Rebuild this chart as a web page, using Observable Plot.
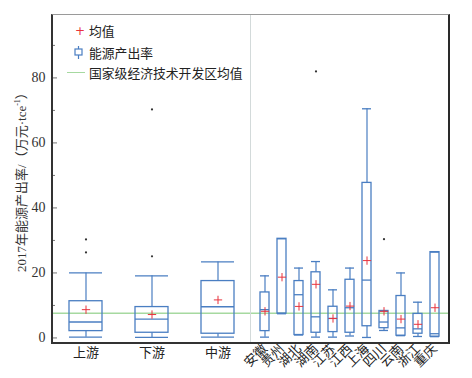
<!DOCTYPE html>
<html>
<head>
<meta charset="utf-8">
<script src="https://cdn.jsdelivr.net/npm/d3@7"></script>
<script src="https://cdn.jsdelivr.net/npm/@observablehq/plot@0.6"></script>
<style>
  html, body { margin: 0; padding: 0; background: #fff; }
  #wrap { position: relative; width: 472px; height: 378px; overflow: hidden; font-family: 'Liberation Serif', 'Noto Sans CJK SC', serif; }
  #wrap svg { position: absolute; top: 0; }
  .ov { position: absolute; box-sizing: border-box; }
  .leg { position: absolute; font-family: 'Noto Sans CJK SC', sans-serif; font-size: 12.8px; color: #222; line-height: 1; white-space: nowrap; }
</style>
</head>
<body>
<div id="wrap"></div>
<script>
// ---- data ----
const groupCats = ["上游", "下游", "中游"];
const groupMin = [0.25, 0.15, 0.25];
const groupQ1 = [2.1, 1.6, 1.3];
const groupMedian = [4.9, 5.8, 9.6];
const groupQ3 = [11.3, 9.5, 17.5];
const groupMax = [20.0, 19.1, 23.4];
const groupMean = [8.7, 7.2, 11.7];
const groupOutlierCats = ["上游", "上游", "下游", "下游"];
const groupOutlierValues = [30.3, 26.3, 25.1, 70.3];

const provCats = ["安徽", "贵州", "湖北", "湖南", "江苏", "江西", "上海", "四川", "云南", "浙江", "重庆"];
const provMin = [0.25, 7.5, 0.9, 0.25, 0.25, 0.6, 0.15, 2.3, 0.7, 0.45, 0.4];
const provQ1 = [2.1, 7.5, 0.9, 1.6, 1.8, 1.6, 3.6, 3.0, 0.7, 1.3, 0.4];
const provMedian = [8.7, 7.5, 13.3, 6.5, 6.0, 9.3, 17.8, 4.9, 3.1, 2.8, 1.3];
const provQ3 = [14.0, 30.5, 17.5, 20.2, 9.6, 17.9, 47.7, 8.3, 12.9, 7.4, 26.4];
const provMax = [19.1, 30.5, 21.5, 23.5, 14.8, 21.5, 70.5, 8.3, 20.0, 11.0, 26.4];
const provMean = [8.2, 18.7, 9.7, 16.5, 6.0, 9.8, 23.8, 8.2, 5.8, 4.2, 9.3];
const provOutlierCats = ["湖南", "四川"];
const provOutlierValues = [82.0, 30.4];

const nationalMean = [7.6];
const majorTicks = [0, 20, 40, 60, 80];
const minorTicks = [10, 30, 50, 70, 90];
const yLabel = "2017年能源产出率/（万元·tce";

// ---- styles ----
const boxColor = "#4a7ec2";
const meanColor = "#e8333d";
const lineColor = "#a6d9a0";
const yDomain = [-1.4, 99.2];
const serif = "'Liberation Serif', 'Noto Sans CJK SC', serif";
const cjk = "'Noto Sans CJK SC', sans-serif";

function table(cats, mn, q1, md, q3, mx, me) {
  return cats.map((c, i) => ({cat: c, min: mn[i], q1: q1[i], median: md[i], q3: q3[i], max: mx[i], mean: me[i]}));
}
const groupData = table(groupCats, groupMin, groupQ1, groupMedian, groupQ3, groupMax, groupMean);
const provData = table(provCats, provMin, provQ1, provMedian, provQ3, provMax, provMean);
const groupOut = groupOutlierCats.map((c, i) => ({cat: c, v: groupOutlierValues[i]}));
const provOut = provOutlierCats.map((c, i) => ({cat: c, v: provOutlierValues[i]}));

function boxMarks(data, outs) {
  return [
    Plot.ruleY(nationalMean, {stroke: lineColor, strokeWidth: 1.5}),
    Plot.ruleX(data, {x: "cat", y1: "min", y2: "q1", stroke: boxColor, strokeWidth: 1.2}),
    Plot.ruleX(data, {x: "cat", y1: "q3", y2: "max", stroke: boxColor, strokeWidth: 1.2}),
    Plot.tickY(data, {x: "cat", y: "min", stroke: boxColor, strokeWidth: 1.3}),
    Plot.tickY(data, {x: "cat", y: "max", stroke: boxColor, strokeWidth: 1.3}),
    Plot.barY(data, {x: "cat", y1: "q1", y2: "q3", fill: "none", stroke: boxColor, strokeWidth: 1.3}),
    Plot.tickY(data, {x: "cat", y: "median", stroke: boxColor, strokeWidth: 1.3}),
    Plot.dot(data, {x: "cat", y: "mean", symbol: "plus", r: 2.8, stroke: meanColor, strokeWidth: 1}),
    Plot.dot(outs, {x: "cat", y: "v", r: 1.1, fill: "#333", stroke: "none"})
  ];
}

const left = Plot.plot({
  width: 251, height: 378,
  marginLeft: 52, marginRight: 0, marginTop: 15, marginBottom: 36,
  style: {fontFamily: serif, background: "transparent"},
  x: {domain: groupCats, paddingInner: 0.5, paddingOuter: 0.25, label: null, axis: null},
  y: {domain: yDomain, label: null, axis: null},
  marks: [
    ...boxMarks(groupData, groupOut),
    Plot.axisY({ticks: majorTicks, tickSize: -5, text: null, stroke: "#777", label: null}),
    Plot.axisY({ticks: minorTicks, tickSize: -3, text: null, stroke: "#777", label: null}),
    Plot.axisY({ticks: majorTicks, tickSize: 0, tickPadding: 7, fontSize: 14, fontFamily: "'Liberation Serif', serif", fill: "#333", label: null}),
    Plot.axisX({tickSize: 0, tickPadding: 5, fontSize: 13, fill: "#222", label: null, fontFamily: cjk})
  ]
});

const right = Plot.plot({
  width: 221, height: 378,
  marginLeft: 0, marginRight: 24, marginTop: 15, marginBottom: 36,
  style: {fontFamily: serif, background: "transparent", overflow: "visible"},
  x: {domain: provCats, paddingInner: 0.5, paddingOuter: 0.25, label: null, axis: null},
  y: {domain: yDomain, label: null, axis: null},
  marks: [
    ...boxMarks(provData, provOut),
    Plot.axisX({tickSize: 0, tickPadding: 4, tickRotate: -45, fontSize: 13, fill: "#222", label: null, fontFamily: cjk})
  ]
});

const wrap = document.getElementById("wrap");
left.style.left = "0px";
right.style.left = "251px";
wrap.appendChild(left);
wrap.appendChild(right);

function addDiv(cls, css, html) {
  const d = document.createElement("div");
  d.className = cls;
  d.style.cssText = css;
  if (html) d.innerHTML = html;
  wrap.appendChild(d);
  return d;
}
// frame and divider
addDiv("ov", "left:250px;top:15px;width:1px;height:327px;background:#d3dada;");
addDiv("ov", "left:51px;top:14px;width:399px;height:330px;border-top:1.5px solid #9a9a9a;border-left:2px solid #333;border-bottom:2px solid #333;border-right:2.5px solid #2a2a2a;");

// y label
addDiv("ov", "left:20px;top:179px;transform:translate(-50%,-50%) rotate(-90deg);white-space:nowrap;font-family:" + serif + ";font-size:13px;color:#333;",
  yLabel + "<sup style='font-size:8px'>-1</sup>）");

// legend
addDiv("leg", "left:75px;top:25px;color:" + meanColor + ";font-size:12px;font-family:'DejaVu Sans',sans-serif;", "+");
addDiv("leg", "left:89px;top:25px;", "均值");
addDiv("leg", "left:74px;top:46px;", "<svg width='10' height='13'><line x1='4.5' y1='0' x2='4.5' y2='13' stroke='" + boxColor + "' stroke-width='1.2'/><rect x='1' y='3' width='7' height='6' fill='white' stroke='" + boxColor + "' stroke-width='1.2'/></svg>");
addDiv("leg", "left:89px;top:47px;", "能源产出率");
addDiv("leg", "left:67px;top:72px;width:18px;height:0;border-top:1.5px solid " + lineColor + ";");
addDiv("leg", "left:89px;top:67px;", "国家级经济技术开发区均值");
</script>
</body>
</html>
